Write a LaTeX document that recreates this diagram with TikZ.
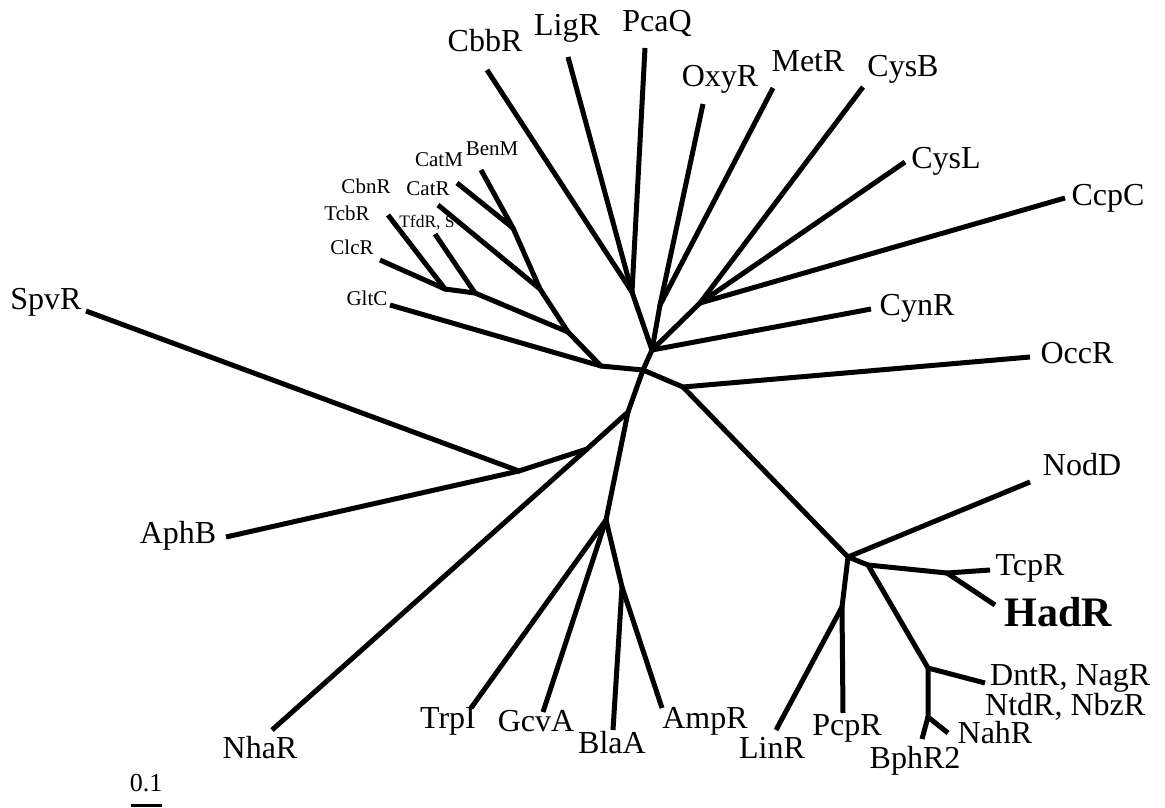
\documentclass[tikz,border=0pt]{standalone}
\usepackage{fontspec}
\setmainfont{Liberation Serif}
\begin{document}
\begin{tikzpicture}[x=1pt,y=-1pt,
  br/.style={line width=5pt,line join=round,line cap=butt},
  lab/.style={inner sep=0pt,font=\fontsize{32}{32}\selectfont,text height=0.66em,text depth=0pt},
  sml/.style={inner sep=0pt,font=\fontsize{21}{21}\selectfont,text height=0.66em,text depth=0pt},
  tiny/.style={inner sep=0pt,font=\fontsize{17.5}{17.5}\selectfont,text height=0.66em,text depth=0pt},
  big/.style={inner sep=0pt,font=\fontsize{42}{42}\selectfont\bfseries,text height=0.66em,text depth=0pt},
  ]
\useasboundingbox (0,0) rectangle (1165,807);
% ---- junctions
\coordinate (c) at (643,370);
\coordinate (u) at (652,350);
\coordinate (a) at (601,366);
\coordinate (j1) at (513,228);
\coordinate (j2) at (540,289);
\coordinate (j3) at (445,289);
\coordinate (j4) at (475,293);
\coordinate (j5) at (568,332);
\coordinate (j6) at (632,292);
\coordinate (j7) at (660,305);
\coordinate (j8) at (700,303);
\coordinate (r) at (683,387);
\coordinate (n0) at (848,557);
\coordinate (n1) at (868,565);
\coordinate (j9) at (947,573);
\coordinate (d0) at (928,668);
\coordinate (d1) at (928,717);
\coordinate (p0) at (842,607);
\coordinate (t1) at (628,412);
\coordinate (l1) at (587,449);
\coordinate (s0) at (519,471);
\coordinate (t2) at (606,520);
\coordinate (b0) at (622,587);
% ---- leaf ends
\coordinate (benM) at (481,170);
\coordinate (catM) at (457,183);
\coordinate (catR) at (438,205);
\coordinate (tcbR) at (388,215);
\coordinate (tfdR) at (435,234);
\coordinate (clcR) at (380,260);
\coordinate (gltC) at (390,305);
\coordinate (cbbR) at (487,70);
\coordinate (ligR) at (568,57);
\coordinate (pcaQ) at (645,48);
\coordinate (oxyR) at (703,104);
\coordinate (metR) at (773,88);
\coordinate (cysB) at (863,87);
\coordinate (cysL) at (905,162);
\coordinate (ccpC) at (1065,198);
\coordinate (cynR) at (871,309);
\coordinate (occR) at (1030,357);
\coordinate (nodD) at (1030,482);
\coordinate (tcpR) at (990,570);
\coordinate (hadR) at (995,605);
\coordinate (dntR) at (985,683);
\coordinate (nahR) at (948,733);
\coordinate (bphR) at (922,739);
\coordinate (pcpR) at (843,713);
\coordinate (linR) at (776,730);
\coordinate (ampR) at (662,708);
\coordinate (blaA) at (613,730);
\coordinate (gcvA) at (543,712);
\coordinate (trpI) at (471,708);
\coordinate (nhaR) at (272,730);
\coordinate (aphB) at (226,537);
\coordinate (spvR) at (86,311);
% ---- branches
\draw[br] (benM) -- (j1) -- (j2) -- (j5) -- (a) -- (c);
\draw[br] (catM) -- (j1);
\draw[br] (catR) -- (j2);
\draw[br] (tcbR) -- (j3) -- (j4) -- (j5);
\draw[br] (clcR) -- (j3);
\draw[br] (tfdR) -- (j4);
\draw[br] (gltC) -- (a);
\draw[br] (cbbR) -- (j6) -- (u) -- (c);
\draw[br] (ligR) -- (j6);
\draw[br] (pcaQ) -- (j6);
\draw[br] (oxyR) -- (j7) -- (u);
\draw[br] (metR) -- (j7);
\draw[br] (cysB) -- (j8) -- (u);
\draw[br] (cysL) -- (j8);
\draw[br] (ccpC) -- (j8);
\draw[br] (cynR) -- (u);
\draw[br] (occR) -- (r) -- (c);
\draw[br] (nodD) -- (n0) -- (r);
\draw[br] (tcpR) -- (j9) -- (n1) -- (n0);
\draw[br] (hadR) -- (j9);
\draw[br] (dntR) -- (d0) -- (n1);
\draw[br] (nahR) -- (d1) -- (d0);
\draw[br] (bphR) -- (d1);
\draw[br] (pcpR) -- (p0) -- (n0);
\draw[br] (linR) -- (p0);
\draw[br] (spvR) -- (s0) -- (l1) -- (t1) -- (c);
\draw[br] (aphB) -- (s0);
\draw[br] (nhaR) -- (l1);
\draw[br] (trpI) -- (t2) -- (t1);
\draw[br] (gcvA) -- (t2);
\draw[br] (blaA) -- (b0) -- (t2);
\draw[br] (ampR) -- (b0);
\foreach \p in {c,u,a,j1,j2,j3,j4,j5,j6,j7,j8,r,n0,n1,j9,d0,d1,p0,t1,l1,s0,t2,b0}
  \fill (\p) circle (2.5pt);
% ---- labels
\node[sml] (lbenM) at (492,152) {BenM};
\node[sml] (lcatM) at (439,163) {CatM};
\node[sml] (lcbnR) at (366,190) {CbnR};
\node[sml] (lcatR) at (428,192) {CatR};
\node[sml] (ltcbR) at (347,217) {TcbR};
\node[tiny] (ltfdR) at (427,224) {TfdR, S};
\node[sml] (lclcR) at (352,251) {ClcR};
\node[sml] (lgltC) at (367,302) {GltC};
\node[lab] (lcbbR) at (485,48) {CbbR};
\node[lab] (lligR) at (567,32) {LigR};
\node[lab] (lpcaQ) at (657,28) {PcaQ};
\node[lab] (loxyR) at (720,83) {OxyR};
\node[lab] (lmetR) at (808,68) {MetR};
\node[lab] (lcysB) at (903,73) {CysB};
\node[lab] (lcysL) at (946,165) {CysL};
\node[lab] (lccpC) at (1108,202) {CcpC};
\node[lab] (lcynR) at (917,312) {CynR};
\node[lab] (loccR) at (1077,360) {OccR};
\node[lab] (lnodD) at (1082,472) {NodD};
\node[lab] (ltcpR) at (1030,572) {TcpR};
\node[big] (lhadR) at (1058,623) {HadR};
\node[inner sep=0pt,anchor=north west,align=left,font=\fontsize{32}{28}\selectfont] (ldntR) at (985,664) {\hspace{5pt}DntR, NagR\\NtdR, NbzR};
\node[lab] (lnahR) at (995,740) {NahR};
\node[lab] (lbphR) at (915,765) {BphR2};
\node[lab] (lpcpR) at (847,732) {PcpR};
\node[lab] (llinR) at (772,755) {LinR};
\node[lab] (lampR) at (705,725) {AmpR};
\node[lab] (lblaA) at (612,750) {BlaA};
\node[lab] (lgcvA) at (536,728) {GcvA};
\node[lab] (ltrpI) at (448,725) {TrpI};
\node[lab] (lnhaR) at (260,755) {NhaR};
\node[lab] (laphB) at (178,540) {AphB};
\node[lab] (lspvR) at (46,306) {SpvR};
% ---- scale bar
\node[inner sep=0pt,font=\fontsize{26}{26}\selectfont,text height=0.66em,text depth=0pt] (scl) at (146,788) {0.1};
\coordinate (sbl) at (131,805);
\coordinate (sbr) at (162,805);
\draw[line width=3pt] (sbl) -- (sbr);
\end{tikzpicture}
\end{document}
